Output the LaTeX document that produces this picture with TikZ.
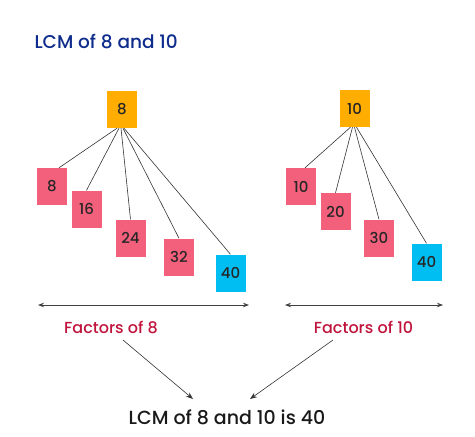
\documentclass[tikz,border=0pt]{standalone}
\usepackage{fontspec}
\IfFontExistsTF{Poppins Medium}{\setmainfont{Poppins Medium}}{\setmainfont{Poppins}}
\usepackage{xcolor}
\usetikzlibrary{arrows.meta, positioning, calc}
\definecolor{titleblue}{HTML}{0D2C8C}
\definecolor{factred}{HTML}{C0143C}
\definecolor{boxpink}{HTML}{F2607C}
\definecolor{boxorange}{HTML}{FFAD00}
\definecolor{boxblue}{HTML}{00BEF2}

\begin{document}
\begin{tikzpicture}[x=1pt, y=-1pt,
    numbox/.style={minimum width=30pt, minimum height=37pt, inner sep=0pt,
        font=\fontsize{15}{17}\selectfont, text=black!85},
    root/.style={numbox, fill=boxorange},
    multiple/.style={numbox, fill=boxpink},
    common/.style={numbox, fill=boxblue},
    link/.style={black!80, line width=0.6pt},
    span/.style={black!75, line width=0.8pt, {Stealth[length=6pt]}-{Stealth[length=6pt]}},
    pointer/.style={black!80, line width=0.6pt, -{Stealth[length=7pt]}}]
    \useasboundingbox (0,0) rectangle (475,437);

    \node[anchor=west, text=titleblue, font=\fontsize{18.5}{22}\selectfont] (title) at (31,42) {LCM of 8 and 10};

    % multiples of 8
    \node[root] (r8) at (122,109.5) {8};
    \node[multiple] (a1) at (52,186.5) {8};
    \node[multiple] (a2) at (86.5,209) {16};
    \node[multiple] (a3) at (130.5,238) {24};
    \node[multiple] (a4) at (179,257) {32};
    \node[common]   (a5) at (230.5,273) {40};
    \draw[link] ([xshift=-5pt]r8.south) -- ([xshift=7pt]a1.north);
    \foreach \i/\s in {2/-3, 3/-1, 4/1, 5/2}
        \draw[link] ([xshift=\s pt]r8.south) -- (a\i.north);

    % multiples of 10
    \node[root] (r10) at (354.5,108.5) {10};
    \node[multiple] (b1) at (301,186.5) {10};
    \node[multiple] (b2) at (335.5,211.5) {20};
    \node[multiple] (b3) at (379,238) {30};
    \node[common]   (b4) at (426.5,262) {40};
    \draw[link] ([xshift=-4pt]r10.south) -- ([xshift=4pt]b1.north);
    \foreach \i/\s in {2/-2, 3/0, 4/2}
        \draw[link] ([xshift=\s pt]r10.south) -- (b\i.north);

    % ranges and labels
    \coordinate (s1) at (38,305);
    \coordinate (e1) at (249,305);
    \coordinate (s2) at (285,305);
    \coordinate (e2) at (443,305);
    \draw[span] (s1) -- (e1);
    \draw[span] (s2) -- (e2);
    \node[text=factred, font=\fontsize{16}{18}\selectfont] (f8) at (111,327) {Factors of 8};
    \node[text=factred, font=\fontsize{16}{18}\selectfont] (f10) at (363.5,327) {Factors of 10};

    \node[text=black!90, font=\fontsize{19}{22}\selectfont] (lcm) at (227,417) {LCM of 8 and 10 is 40};
    \coordinate (t8) at (123,340);
    \coordinate (t10) at (333,340);
    \coordinate (h8) at (193,399);
    \coordinate (h10) at (250,399);
    \draw[pointer] (t8) -- (h8);
    \draw[pointer] (t10) -- (h10);
\end{tikzpicture}
\end{document}
